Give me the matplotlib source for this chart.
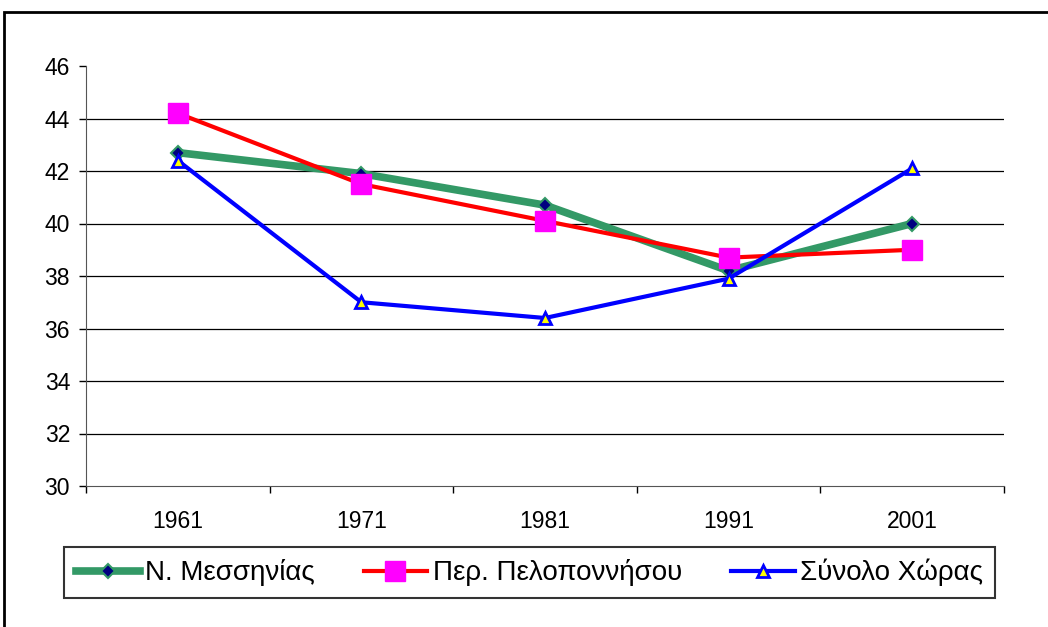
import matplotlib
matplotlib.use("Agg")
import matplotlib.pyplot as plt
from matplotlib.patches import Rectangle

plt.rcParams['font.family'] = ['Liberation Sans', 'DejaVu Sans']

years = ['1961', '1971', '1981', '1991', '2001']
messinia = [42.7, 41.9, 40.7, 38.2, 40.0]
peloponnisos = [44.2, 41.5, 40.1, 38.7, 39.0]
synolo = [42.4, 37.0, 36.4, 37.9, 42.1]
labels = ['Ν. Μεσσηνίας', 'Περ. Πελοποννήσου', 'Σύνολο Χώρας']
yticks = [30, 32, 34, 36, 38, 40, 42, 44, 46]

W, H = 1048, 627
fig = plt.figure(figsize=(W / 100, H / 100), dpi=100)
fig.patch.set_facecolor('white')

# outer chart frame
fig.patches.append(Rectangle((4 / W, -0.1), 1.2, (H - 12) / H + 0.1,
                             transform=fig.transFigure, fill=False,
                             edgecolor='black', linewidth=2))

ax = fig.add_axes([86 / W, 141 / H, 918 / W, 420 / H])
x = list(range(len(years)))

for yv in yticks[1:-1]:
    ax.axhline(yv, color='black', linewidth=0.9, zorder=1)

l1, = ax.plot(x, messinia, color='#339966', linewidth=5.5, marker='D',
              markersize=7, markerfacecolor='#000080',
              markeredgecolor='#339966', markeredgewidth=1.5, zorder=3)
l2, = ax.plot(x, peloponnisos, color='#FF0000', linewidth=3, marker='s',
              markersize=14, markerfacecolor='#FF00FF',
              markeredgecolor='#FF00FF', zorder=4)
l3, = ax.plot(x, synolo, color='#0000FF', linewidth=3, marker='^',
              markersize=9, markerfacecolor='#FFFF00',
              markeredgecolor='#0000FF', markeredgewidth=2, zorder=5)

ax.set_xlim(-0.5, len(years) - 0.5)
ax.set_ylim(30, 46)
ax.set_yticks(yticks)
ax.set_xticks(x)
ax.set_xticklabels(years)
ax.set_xticks([i - 0.5 for i in range(len(years) + 1)], minor=True)
ax.tick_params(axis='x', which='major', length=0, pad=17.5, labelsize=16.5)
ax.tick_params(axis='x', which='minor', length=5, width=1, direction='out')
ax.tick_params(axis='y', length=5, width=1, direction='out', pad=6.5, labelsize=16.5)

for s in ['top', 'right']:
    ax.spines[s].set_visible(False)
ax.spines['left'].set_color('#555555')
ax.spines['bottom'].set_color('#555555')
ax.set_facecolor('none')

leg = fig.legend([l1, l2, l3], labels, loc='center',
                 bbox_to_anchor=((63 + 996) / 2 / W, 1 - 572.5 / H),
                 ncol=3, frameon=True, fancybox=False, fontsize=20,
                 handlelength=2.3, handletextpad=0.2, columnspacing=1.75,
                 borderpad=0.42, borderaxespad=0)
leg.get_frame().set_edgecolor('black')
leg.get_frame().set_linewidth(1.5)

fig.savefig('out.png', dpi=100)
